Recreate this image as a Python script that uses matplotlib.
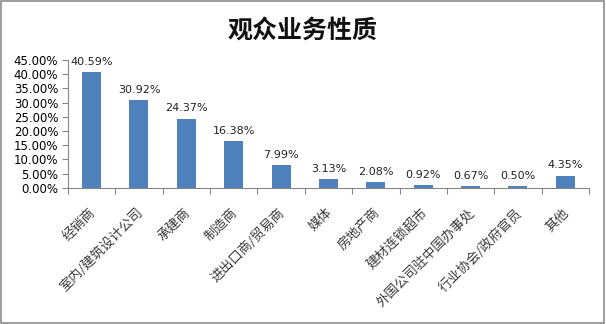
import matplotlib
matplotlib.use("Agg")
import matplotlib.pyplot as plt
from matplotlib.patches import Rectangle
from matplotlib.ticker import PercentFormatter, FixedLocator
from matplotlib.transforms import ScaledTranslation

plt.rcParams['font.family'] = ['Noto Sans CJK SC', 'DejaVu Sans']

categories = ["经销商", "室内/建筑设计公司", "承建商", "制造商", "进出口商/贸易商",
              "媒体", "房地产商", "建材连锁超市", "外国公司驻中国办事处",
              "行业协会/政府官员", "其他"]
values = [40.59, 30.92, 24.37, 16.38, 7.99, 3.13, 2.08, 0.92, 0.67, 0.50, 4.35]
yticks = [0, 5, 10, 15, 20, 25, 30, 35, 40, 45]

fig = plt.figure(figsize=(6.06, 3.24), dpi=100)
# outer gray frame
fig.patches.append(Rectangle((0.002, 0.003), 0.995, 0.993, transform=fig.transFigure,
                             fill=False, edgecolor="#8c8c8c", linewidth=1.2))

ax = fig.add_axes([0.112, 0.42, 0.860, 0.395])
x = list(range(len(categories)))
ax.bar(x, values, width=0.4, color="#4F81BD")

for xi, v in zip(x, values):
    ax.text(xi, v + 1.8, f"{v:.2f}%", ha="center", va="bottom", fontsize=8,
            family="DejaVu Sans", color="#222222")

ax.set_xlim(-0.5, len(categories) - 0.5)
ax.set_ylim(0, 45)
ax.set_yticks(yticks)
ax.yaxis.set_major_formatter(PercentFormatter(decimals=2))
ax.xaxis.set_major_locator(FixedLocator([i - 0.5 for i in range(len(categories) + 1)]))
ax.xaxis.set_minor_locator(FixedLocator(x))
ax.set_xticklabels([])
ax.set_xticklabels(categories, minor=True, rotation=45, ha="right",
                   rotation_mode="anchor", fontsize=9.5, color="#3a3a3a")
ax.tick_params(axis="x", which="minor", length=0, pad=4)
ax.tick_params(axis="x", which="major", length=4, color="#868686")
ax.tick_params(axis="y", length=4, color="#868686", labelsize=8.5, pad=3)
for lbl in ax.get_yticklabels():
    lbl.set_family("DejaVu Sans")

# shift category labels a bit down, like the excel layout
shift = ScaledTranslation(-2 / 72, -9 / 72, fig.dpi_scale_trans)
for lbl in ax.xaxis.get_minorticklabels():
    lbl.set_transform(lbl.get_transform() + shift)

for s in ["top", "right"]:
    ax.spines[s].set_visible(False)
for s in ["left", "bottom"]:
    ax.spines[s].set_color("#868686")

fig.text(0.5, 0.905, "观众业务性质", ha="center", va="center", fontsize=18,
         fontweight="bold", color="#111111")

fig.savefig("out.png", dpi=100)
